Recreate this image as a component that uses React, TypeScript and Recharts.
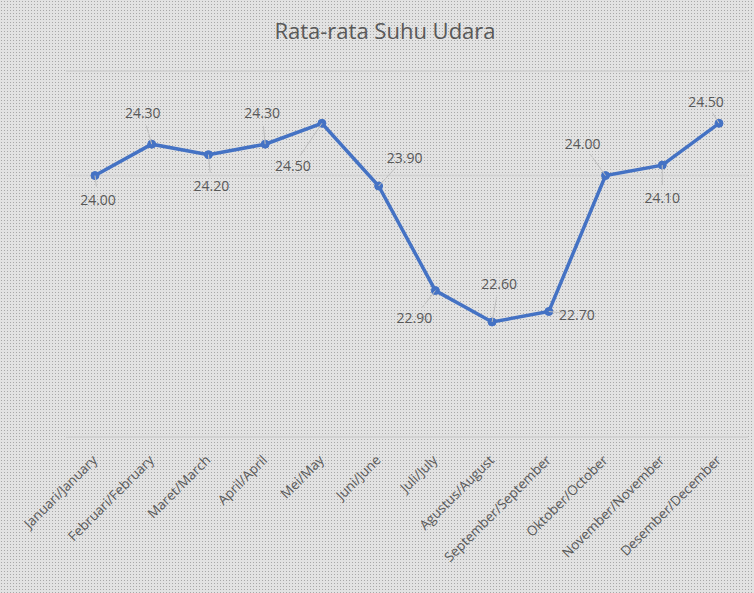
import { LineChart, Line, XAxis, YAxis, CartesianGrid } from 'recharts';

const months = [
  'Januari/January',
  'Februari/February',
  'Maret/March',
  'April/April',
  'Mei/May',
  'Juni/June',
  'Juli/July',
  'Agustus/August',
  'September/September',
  'Oktober/October',
  'November/November',
  'Desember/December',
];

const suhu = [24.0, 24.3, 24.2, 24.3, 24.5, 23.9, 22.9, 22.6, 22.7, 24.0, 24.1, 24.5];

const yTicks = [21.5, 24];

const data = months.map((bulan, i) => ({ bulan, suhu: suhu[i] }));

// label offsets from the point (dx, dy), like the manually moved labels in Excel
const labelOffsets: [number, number][] = [
  [3, 24],
  [-9, -31],
  [3, 31],
  [-3, -31],
  [-29, 43],
  [26, -28],
  [-21, 27],
  [7, -38],
  [28, 3],
  [-23, -32],
  [0, 33],
  [-13, -21],
];

const FONT = '"Open Sans", "Noto Sans", sans-serif';
const TEXT = '#595959';

const PointLabel = (props: any) => {
  const { x, y, index, value } = props;
  const [dx, dy] = labelOffsets[index] ?? [0, -20];
  const lx = x + dx;
  const ly = y + dy;
  const len = Math.sqrt(dx * dx + dy * dy);
  // leader line stops short of the text
  const k = len > 0 ? Math.max(0, (len - 13) / len) : 0;
  return (
    <g>
      {len > 22 && (
        <line x1={x} y1={y} x2={x + dx * k} y2={y + dy * k} stroke="#bfbfbf" strokeWidth={1} />
      )}
      <text x={lx} y={ly} dy={5} textAnchor="middle" fontSize={14} fontFamily={FONT} fill={TEXT}>
        {Number(value).toFixed(2)}
      </text>
    </g>
  );
};

const MonthTick = (props: any) => {
  const { x, y, payload } = props;
  return (
    <g transform={`translate(${x + 3},${y + 16})`}>
      <text transform="rotate(-45)" textAnchor="end" fontSize={13.5} fontFamily={FONT} fill={TEXT}>
        {payload.value}
      </text>
    </g>
  );
};

const App = () => {
  return (
    <div
      style={{
        position: 'absolute',
        left: 0,
        top: 0,
        width: 754,
        height: 593,
        backgroundColor: '#e2e2e2',
        backgroundImage: 'radial-gradient(#a8a8a8 0.8px, transparent 1px)',
        backgroundSize: '3px 3px',
      }}
    >
      <div
        style={{
          position: 'absolute',
          top: 15,
          width: 754,
          textAlign: 'center',
          fontFamily: FONT,
          fontSize: 22,
          color: TEXT,
          paddingLeft: 16,
          boxSizing: 'border-box',
        }}
      >
        Rata-rata Suhu Udara
      </div>
      <LineChart width={754} height={593} data={data} margin={{ top: 71, right: 6, left: 66, bottom: 0 }}>
        <CartesianGrid vertical={false} stroke="#cfcfcf" strokeWidth={1.5} />
        <XAxis
          dataKey="bulan"
          axisLine={false}
          tickLine={false}
          interval={0}
          tick={<MonthTick />}
          height={156}
          padding={{ left: 29, right: 29 }}
        />
        <YAxis hide domain={[21.5, 25]} ticks={yTicks} />
        <Line
          type="linear"
          dataKey="suhu"
          stroke="#4472c4"
          strokeWidth={3.5}
          dot={{ r: 4, fill: '#4472c4', stroke: '#4472c4', strokeWidth: 1 }}
          label={<PointLabel />}
          isAnimationActive={false}
        />
      </LineChart>
    </div>
  );
};

export default App;
